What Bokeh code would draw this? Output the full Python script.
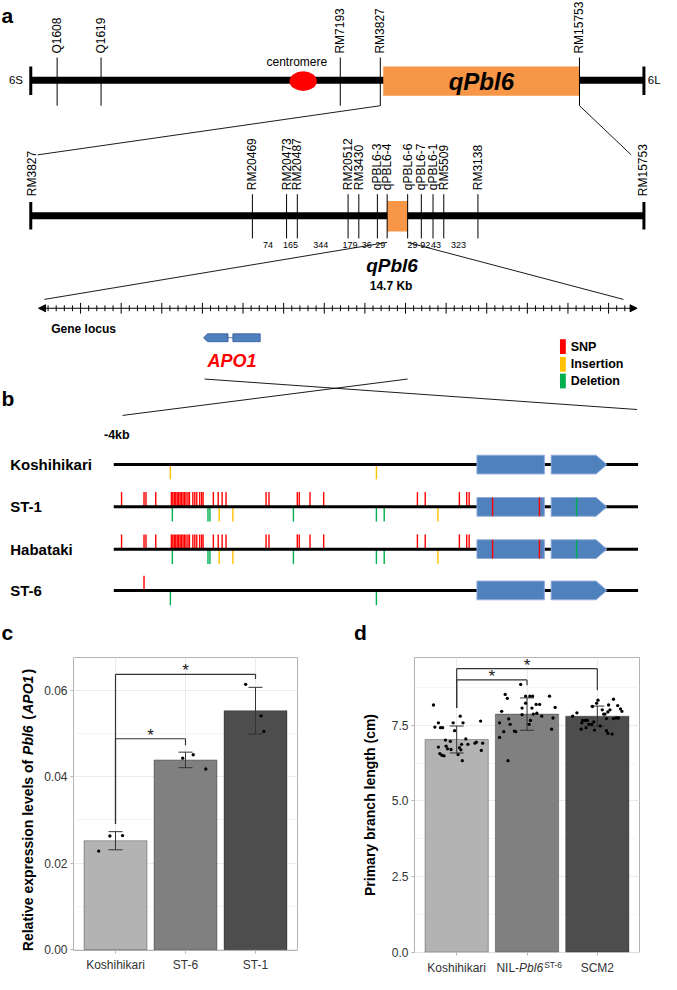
import numpy as np
from bokeh.plotting import figure
from bokeh.models import (Range1d, FixedTicker, SingleIntervalTicker,
                          PrintfTickFormatter, Arrow, NormalHead)
from bokeh.layouts import column, row
from bokeh.embed import file_html
from bokeh.resources import INLINE
from bokeh.core.properties import value

FONT = "Liberation Sans"

# ======================= DATA =======================
# ---- panel a : chromosome 6 map (x = position on the drawing) ----
chrom_marker_names = ["Q1608", "Q1619", "RM7193", "RM3827", "RM15753"]
chrom_marker_pos = [58, 103, 348, 389, 593]
chrom_end_pos = [31, 659]
chrom_end_labels = ["6S", "6L"]
centromere_pos = 310
qtl_span = [392, 593]

fine_marker_names = ["RM20469", "RM20473", "RM20487", "RM20512", "RM3430",
                     "qPBL6-3", "qPBL6-4", "qPBL6-6", "qPBL6-7", "qPBL6-1",
                     "RM5509", "RM3138"]
fine_marker_pos = [258, 293, 304, 356, 367, 386, 396, 417, 431, 443, 454, 489]
fine_end_names = ["RM3827", "RM15753"]
fine_end_pos = [31, 659]
fine_qtl_span = [396, 417]
recomb_counts = ["74", "165", "344", "179", "36", "29", "29", "92", "43", "323"]
recomb_pos = [274, 297, 328, 358, 375, 389, 422, 435, 446, 469]

locus_size_label = "14.7 Kb"
locus_span = [39, 652]
locus_first_kb = 82
locus_px_per_kb = 41.6
locus_n_kb = 14
apo1_exon_left = [208, 233]
apo1_exon_right = [238, 266]

legend_labels = ["SNP", "Insertion", "Deletion"]
legend_colors = ["#FF0000", "#FFC000", "#00B050"]

# ---- panel b : polymorphisms in the APO1 region ----
variant_lines = ["Koshihikari", "ST-1", "Habataki", "ST-6"]
region_span = [116, 653]
exon1_span = [488, 557]
exon2_span = [564, 621]

koshihikari_snp = []
koshihikari_ins = [174, 385]
koshihikari_del = []
koshihikari_exon_snp = []
koshihikari_exon_del = []

st1_snp = [124, 147, 149, 159, 175, 176.5, 178, 179.5, 181, 182.5, 184, 185.5,
           187, 188.5, 190, 192, 193.5, 197, 199, 201, 204, 206, 207.5,
           218, 223, 227, 231, 272, 275, 304, 306, 317, 331, 427, 435,
           470, 477.5, 480]
st1_ins = [224, 238, 448]
st1_del = [176, 212.5, 214.5, 300, 385, 393]
st1_exon_snp = [504, 552]
st1_exon_del = [590]

habataki_snp = [124, 147, 149, 159, 175, 176.5, 178, 179.5, 181, 182.5, 184, 185.5,
                187, 188.5, 190, 192, 193.5, 197, 199, 201, 204, 206, 207.5,
                218, 223, 227, 231, 272, 275, 304, 306, 317, 331, 427, 435,
                470, 477.5, 480]
habataki_ins = [224, 238, 448]
habataki_del = [176, 212.5, 214.5, 300, 385, 393]
habataki_exon_snp = [504, 552]
habataki_exon_del = [590]

st6_snp = [147]
st6_ins = []
st6_del = [174, 385]
st6_exon_snp = []
st6_exon_del = []

# ---- panel c : relative expression of Pbl6 (APO1) ----
expr_lines = ["Koshihikari", "ST-6", "ST-1"]
expr_mean = [0.0252, 0.0439, 0.0553]
expr_sd = [0.0021, 0.0018, 0.0054]
expr_values = [[0.0228, 0.0263, 0.0264],
               [0.0443, 0.0451, 0.0418],
               [0.0614, 0.0541, 0.0505]]
expr_jitter = [[-0.24, -0.08, 0.10],
               [-0.04, 0.11, 0.29],
               [-0.14, 0.08, 0.12]]
expr_brackets = [("Koshihikari", "ST-6", 0.0488, 0.0291, 0.0473),
                 ("Koshihikari", "ST-1", 0.0637, 0.0291, 0.0626)]

# ---- panel d : primary branch length ----
branch_lines = ["Koshihikari", "NIL-Pbl6ST-6", "SCM2"]
branch_mean = [7.03, 7.87, 7.80]
branch_sd = [0.445, 0.535, 0.335]
branch_koshihikari = [8.17, 7.44, 7.58, 7.42, 7.42, 6.78, 6.81, 6.97, 7.58, 7.32,
                      7.80, 7.58, 7.01, 6.51, 6.56, 6.49, 6.72, 6.70, 6.76, 6.69,
                      6.53, 6.33, 6.87, 7.05, 6.87, 6.91, 6.94, 6.91, 6.67, 7.64]
jitter_koshihikari = [-0.33, -0.31, -0.26, -0.23, -0.20, -0.26, -0.15, -0.09, -0.05, -0.03,
                      0.05, 0.09, -0.16, -0.21, -0.24, -0.18, -0.13, -0.08, 0.04, 0.06,
                      0.02, 0.08, 0.07, 0.13, 0.16, 0.26, 0.28, 0.37, 0.35, 0.34]
branch_nil = [8.85, 8.52, 8.39, 8.46, 8.46, 8.46, 8.46, 7.96, 7.71, 7.58,
              7.53, 7.29, 7.31, 7.29, 7.10, 6.33, 8.07, 8.07, 8.19, 8.19,
              8.09, 7.85, 7.87, 7.80, 7.66, 7.53, 7.74, 7.37, 8.23, 7.90]
jitter_nil = [-0.09, -0.31, -0.28, -0.02, 0.04, 0.08, 0.32, -0.36, -0.26, -0.39,
              -0.24, -0.33, -0.18, -0.16, -0.39, -0.27, -0.07, 0.07, 0.13, 0.18,
              0.40, -0.07, 0.09, 0.21, 0.05, 0.03, 0.37, 0.35, -0.02, 0.14]
branch_scm2 = [7.80, 7.91, 7.66, 7.66, 7.66, 7.58, 7.53, 7.37, 7.42, 7.61,
               8.23, 8.33, 8.12, 8.01, 7.87, 7.94, 8.01, 7.87, 7.72, 8.17,
               8.36, 8.15, 8.04, 7.96, 7.72, 7.74, 7.74, 7.32, 7.23, 7.21,
               7.34, 7.53, 7.48]
jitter_scm2 = [-0.35, -0.29, -0.21, -0.17, -0.14, -0.22, -0.12, -0.23, -0.16, -0.05,
               -0.01, 0.01, -0.07, 0.07, 0.11, 0.15, 0.18, 0.09, 0.13, 0.16,
               0.23, 0.29, 0.33, 0.35, 0.23, 0.27, 0.30, 0.13, 0.15, 0.21,
               -0.04, -0.08, 0.04]
branch_brackets = [("Koshihikari", "NIL-Pbl6ST-6", 9.00, 8.07, 8.82),
                   ("Koshihikari", "SCM2", 9.37, 8.07, 8.66)]

# ======================= LAYOUT CONSTANTS =======================
PAGE_W, PAGE_H = 661, 974
REF_W, REF_H = 677, 990
SX = PAGE_W / REF_W
SY = PAGE_H / REF_H
REF_SPLIT = 656
TOP_H = round(REF_SPLIT * SY)
BOT_H = PAGE_H - TOP_H
MB_TOP, MB_BOT = 12, 22

BOLD_W = {' ': 278, '(': 333, ')': 333, '-': 333, '.': 278, '1': 556, '6': 556,
          'A': 722, 'O': 778, 'P': 667, 'R': 722, 'a': 556, 'b': 611, 'e': 556,
          'f': 333, 'i': 278, 'l': 278, 'n': 611, 'o': 611, 'p': 611, 'r': 389,
          's': 556, 't': 333, 'v': 556, 'x': 556}
REG_W = {'-': 333, '6': 556, 'I': 278, 'L': 556, 'N': 722, 'P': 667, 'S': 667,
         'T': 611, 'b': 556, 'l': 222}


def text_width(s, size, table):
    return sum(table.get(ch, 556) for ch in s) * size / 1000.0


def pixel_figure(w, h, xr, yr):
    f = figure(width=w, height=h, x_range=Range1d(*xr), y_range=Range1d(*yr),
               x_axis_type=None, y_axis_type=None, title=None,
               toolbar_location=None, output_backend="svg", min_border=0)
    f.outline_line_color = None
    return f


def T(f, x, y, t, size, style="normal", color="#000000", align="left",
      baseline="middle", angle=0.0, x_offset=0):
    f.text(x=x, y=y, text=t, text_font=value(FONT), text_font_size=size,
           text_font_style=style, text_color=color, text_align=align,
           text_baseline=baseline, angle=angle, x_offset=x_offset)


# ======================= TOP FIGURE (panels a, b) =======================
p = pixel_figure(PAGE_W, TOP_H, (0, REF_W), (REF_SPLIT, 0))


def vlines(xs, y0, y1, color="black", width=1.0):
    p.segment(x0=xs, y0=[y0] * len(xs), x1=xs, y1=[y1] * len(xs),
              line_color=color, line_width=width)


# --- a : whole chromosome
T(p, [1], [15], ["a"], "21px", "bold")
p.segment(x0=[chrom_end_pos[0]], y0=[81], x1=[chrom_end_pos[1]], y1=[81],
          line_width=7, line_color="black")
vlines(chrom_end_pos, 67, 96, width=3)
T(p, [chrom_end_pos[0] - 8], [81], [chrom_end_labels[0]], "11.5px", align="right")
T(p, [chrom_end_pos[1] + 4], [81], [chrom_end_labels[1]], "11.5px", align="left")
p.ellipse(x=[centromere_pos], y=[82], width=28, height=20,
          fill_color="#FF0000", line_color=None)
T(p, [centromere_pos - 6.5], [63], ["centromere"], "12px", align="center")
p.quad(left=[qtl_span[0]], right=[qtl_span[1]], top=[67], bottom=[97],
       fill_color="#F79646", line_color=None)
T(p, [(qtl_span[0] + qtl_span[1]) / 2], [82], ["qPbl6"], "24px", "bold italic",
  align="center")
vlines(chrom_marker_pos, 58, 107)
T(p, chrom_marker_pos, [54] * len(chrom_marker_pos), chrom_marker_names, "12px",
  align="left", angle=np.pi / 2)
p.segment(x0=[chrom_marker_pos[3], chrom_marker_pos[4]], y0=[107, 107],
          x1=[38, 646], y1=[157, 157], line_color="black", line_width=0.9)

# --- a : fine map
p.segment(x0=[fine_end_pos[0]], y0=[219], x1=[fine_end_pos[1]], y1=[219],
          line_width=7, line_color="black")
vlines(fine_end_pos, 205, 233, width=3)
p.quad(left=[fine_qtl_span[0]], right=[fine_qtl_span[1]], top=[204], bottom=[235],
       fill_color="#F79646", line_color=None)
vlines(fine_marker_pos, 197, 242)
T(p, fine_marker_pos, [193] * len(fine_marker_pos), fine_marker_names, "12px",
  align="left", angle=np.pi / 2)
T(p, [fine_end_pos[0] + 1, fine_end_pos[1] - 1], [199, 199], fine_end_names, "12px",
  align="left", angle=np.pi / 2)
T(p, recomb_pos, [249] * len(recomb_pos), recomb_counts, "9px", align="center")
T(p, [401], [270], ["qPbl6"], "19px", "bold italic", align="center")
T(p, [400], [290], [locus_size_label], "12px", "bold", align="center")
p.segment(x0=[fine_qtl_span[0], fine_qtl_span[1]], y0=[246, 246],
          x1=[45, 638], y1=[304, 304], line_color="black", line_width=0.9)

# --- a : gene locus ruler (1 kb major, 0.2 kb minor)
p.add_layout(Arrow(start=NormalHead(size=7, line_color="black", fill_color="black"),
                   end=NormalHead(size=7, line_color="black", fill_color="black"),
                   x_start=locus_span[0], y_start=313, x_end=locus_span[1], y_end=313,
                   line_width=1.2, line_color="black"))
major_x = [locus_first_kb + k * locus_px_per_kb for k in range(locus_n_kb)]
minor_x = []
for j in range(-4, 5 * (locus_n_kb - 1) + 3):
    if j % 5 != 0:
        minor_x.append(locus_first_kb + j * locus_px_per_kb / 5)
vlines(major_x, 307.5, 318.5, width=1)
vlines(minor_x, 310, 316, width=1)
T(p, [52], [334], ["Gene locus"], "12px", "bold")

# APO1 gene model (points left)
yg = 343
p.segment(x0=[apo1_exon_left[1]], y0=[yg], x1=[apo1_exon_right[0]], y1=[yg],
          line_color="#2F5597", line_width=0.8)
p.patches(xs=[[apo1_exon_left[0], apo1_exon_left[0] + 4, apo1_exon_left[1],
               apo1_exon_left[1], apo1_exon_left[0] + 4],
              [apo1_exon_right[0], apo1_exon_right[1], apo1_exon_right[1],
               apo1_exon_right[0]]],
          ys=[[yg, yg - 4, yg - 4, yg + 4, yg + 4],
              [yg - 4, yg - 4, yg + 4, yg + 4]],
          fill_color="#4F81BD", line_color="#2F5597", line_width=0.8)
T(p, [237], [367], ["APO1"], "18px", "bold italic", color="#FF0000", align="center")

# legend
leg_y = [352, 370, 387]
p.quad(left=[573] * 3, right=[579] * 3, top=[y - 7.5 for y in leg_y],
       bottom=[y + 7.5 for y in leg_y], fill_color=legend_colors, line_color=None)
T(p, [584] * 3, leg_y, legend_labels, "12.5px", "bold")

# zoom lines
p.segment(x0=[209, 417], y0=[385, 385], x1=[652, 125], y1=[416, 422],
          line_color="black", line_width=0.9)

# --- b : variants
T(p, [1], [405], ["b"], "21px", "bold")
T(p, [106], [442], ["-4kb"], "12.5px", "bold")
row_y = [472, 515, 558, 600]
T(p, [10] * 4, row_y, variant_lines, "15px", "bold")

row_data = [
    (koshihikari_snp, koshihikari_ins, koshihikari_del, koshihikari_exon_snp, koshihikari_exon_del),
    (st1_snp, st1_ins, st1_del, st1_exon_snp, st1_exon_del),
    (habataki_snp, habataki_ins, habataki_del, habataki_exon_snp, habataki_exon_del),
    (st6_snp, st6_ins, st6_del, st6_exon_snp, st6_exon_del),
]
for y, (snp, ins, dele, esnp, edel) in zip(row_y, row_data):
    if snp:
        vlines(snp, y - 15, y, color="#FF0000", width=1.4)
    if ins:
        vlines(ins, y, y + 15, color="#FFC000", width=1.4)
    if dele:
        vlines(dele, y, y + 15, color="#00B050", width=1.4)
    p.segment(x0=[region_span[0]], y0=[y], x1=[region_span[1]], y1=[y],
              line_color="black", line_width=3)
    tip = exon2_span[1] - 11
    p.patches(xs=[[exon1_span[0], exon1_span[1], exon1_span[1], exon1_span[0]],
                  [exon2_span[0], tip, exon2_span[1], tip, exon2_span[0]]],
              ys=[[y - 9.5, y - 9.5, y + 9.5, y + 9.5],
                  [y - 9.5, y - 9.5, y, y + 9.5, y + 9.5]],
              fill_color="#4F81BD", line_color="#8EA9DB", line_width=1)
    if esnp:
        vlines(esnp, y - 9.5, y + 9.5, color="#FF0000", width=1.4)
    if edel:
        vlines(edel, y - 9.5, y + 9.5, color="#00B050", width=1.4)

T(p, [1, 362], [643, 643], ["c", "d"], "21px", "bold")

# ======================= BAR FIGURES (panels c, d) =======================
BAR_FILLS = ["#B3B3B3", "#808080", "#4D4D4D"]
TICK_COLOR = "#333333"


def bar_figure(width, height, mbl, mbr, mbb, cats, means, sds, vals, jits, yr,
               interval, fmt, brackets, overrides, show_xlabels=True):
    fh = height - MB_TOP - mbb
    ppu = fh / (yr[1] - yr[0])
    f = figure(width=width, height=height, x_range=Range1d(0.4, 3.6),
               y_range=Range1d(yr[0], yr[1]), output_backend="svg",
               toolbar_location=None, title=None, min_border_left=mbl,
               min_border_right=mbr, min_border_top=MB_TOP, min_border_bottom=mbb)
    xs = [i + 1 for i in range(len(cats))]
    f.vbar(x=xs, top=means, bottom=0, width=0.9, fill_color=BAR_FILLS,
           line_color="black", line_alpha=0.3, line_width=1)
    lo = [m - s for m, s in zip(means, sds)]
    hi = [m + s for m, s in zip(means, sds)]
    f.segment(x0=xs, y0=lo, x1=xs, y1=hi, line_color="#333333", line_width=1)
    f.segment(x0=[x - 0.1 for x in xs] * 2, y0=hi + lo,
              x1=[x + 0.1 for x in xs] * 2, y1=hi + lo,
              line_color="#333333", line_width=1)
    px = [x + j for x, js in zip(xs, jits) for j in js]
    py = [v for vs in vals for v in vs]
    f.scatter(x=px, y=py, size=3.3, fill_color="black", line_color=None)
    idx = {c: i + 1 for i, c in enumerate(cats)}
    bx0, by0, bx1, by1, sx, sy = [], [], [], [], [], []
    for a, b, lev, low_a, low_b in brackets:
        xa, xb = idx[a], idx[b]
        bx0 += [xa, xa, xb]
        by0 += [low_a, lev, lev]
        bx1 += [xa, xb, xb]
        by1 += [lev, lev, low_b]
        sx.append((xa + xb) / 2)
        sy.append(lev + 3.5 / ppu)
    f.segment(x0=bx0, y0=by0, x1=bx1, y1=by1, line_color="#333333", line_width=1.2)
    f.text(x=sx, y=sy, text=["*"] * len(sx), text_font=value(FONT),
           text_font_size="17px", text_align="center", text_baseline="middle",
           text_color="#1a1a1a")
    tk = FixedTicker(ticks=xs)
    f.xaxis.ticker = tk
    f.xgrid.ticker = tk
    f.xaxis.major_label_overrides = overrides
    yt = SingleIntervalTicker(interval=interval, num_minor_ticks=2)
    f.yaxis.ticker = yt
    f.ygrid.ticker = yt
    f.yaxis.formatter = PrintfTickFormatter(format=fmt)
    for ax in f.axis:
        ax.axis_line_color = None
        ax.major_tick_line_color = "#B3B3B3"
        ax.major_tick_in = 0
        ax.major_tick_out = 3
        ax.minor_tick_line_color = None
        ax.major_label_text_font = FONT
        ax.major_label_text_font_size = "12px"
        ax.major_label_text_color = TICK_COLOR
        ax.major_label_standoff = 2
    f.xaxis.major_label_standoff = 4
    if not show_xlabels:
        f.xaxis.major_label_text_font_size = "0px"
        f.xaxis.major_label_standoff = 0
    f.outline_line_color = "#B3B3B3"
    f.xgrid.grid_line_color = "#EBEBEB"
    f.ygrid.grid_line_color = "#EBEBEB"
    f.ygrid.minor_grid_line_color = "#F5F5F5"
    return f, ppu


C_W = round(338 * SX)
D_W = PAGE_W - C_W
CY_W = 40
C_MBL = round(75 * SX) - CY_W
C_MBR = C_W - round(75 * SX) - round(229 * SX)

# --- c
c_fig, c_ppu = bar_figure(
    C_W - CY_W, BOT_H, C_MBL, C_MBR, MB_BOT, expr_lines, expr_mean, expr_sd,
    expr_values, expr_jitter, (-0.0002, 0.0676), 0.02, "%.2f", expr_brackets,
    {i + 1: n for i, n in enumerate(expr_lines)})

# y-axis title of c (italic gene names), drawn in a strip left of the axis
cy = pixel_figure(CY_W, BOT_H, (0, CY_W), (BOT_H, 0))
c_title_head = "Relative expression levels of"
c_title_tail = [("Pbl6", "bold italic"), ("(", "bold"), ("APO1", "bold italic"),
                (")", "bold")]
title_size = 14
space_w = text_width(" ", title_size, BOLD_W)
tail_gaps = [space_w + 2.5, 1.5, 2.5, 0]   # gap after each tail piece
head_w = text_width(c_title_head, title_size, BOLD_W)
tail_w = [text_width(s, title_size, BOLD_W) * 1.12 for s, _ in c_title_tail]
total = head_w + space_w + 1.5 + sum(tail_w) + sum(tail_gaps)
y_mid = (MB_TOP + (BOT_H - MB_BOT)) / 2
junction = y_mid + total / 2 - head_w   # end of the upright part
xt = 28 * SX
T(cy, [xt], [junction], [c_title_head], f"{title_size}px", "bold", align="right",
  baseline="middle", angle=np.pi / 2)
y_pos = junction - space_w - 1.5
for k, (s, style) in enumerate(c_title_tail):
    T(cy, [xt], [y_pos], [s], f"{title_size}px", style, align="left",
      baseline="middle", angle=np.pi / 2)
    y_pos -= tail_w[k] + tail_gaps[k]

# --- d
STRIP_H = 14
D_MBL = round(86 * SX)
D_MBR = D_W - D_MBL - round(230 * SX)
d_fig, d_ppu = bar_figure(
    D_W, BOT_H - STRIP_H, D_MBL, D_MBR, MB_BOT - STRIP_H, branch_lines,
    branch_mean, branch_sd, [branch_koshihikari, branch_nil, branch_scm2],
    [jitter_koshihikari, jitter_nil, jitter_scm2], (-0.01, 9.74), 2.5, "%.1f",
    branch_brackets, {1: "", 2: "", 3: ""}, show_xlabels=False)
d_fig.yaxis.axis_label = "Primary branch length (cm)"
d_fig.yaxis.axis_label_text_font = FONT
d_fig.yaxis.axis_label_text_font_size = "14px"
d_fig.yaxis.axis_label_text_font_style = "bold"
d_fig.yaxis.axis_label_text_color = "black"
d_fig.yaxis.axis_label_standoff = 11

# category labels of d (with italic gene name and superscript allele)
d_lab = figure(width=D_W, height=STRIP_H, x_range=d_fig.x_range,
               y_range=Range1d(STRIP_H, 0), x_axis_type=None, y_axis_type=None,
               title=None, toolbar_location=None, output_backend="svg",
               min_border_left=D_MBL, min_border_right=D_MBR, min_border_top=0,
               min_border_bottom=0)
d_lab.outline_line_color = None
T(d_lab, [1, 3], [0.5, 0.5], [branch_lines[0], branch_lines[2]], "12px",
  color=TICK_COLOR, align="center", baseline="top")
nil_parts = [("NIL-", "normal", 12, 0.5), ("Pbl6", "italic", 12, 0.5),
             ("ST-6", "normal", 8.5, -0.5)]
nil_total = sum(text_width(s, sz, REG_W) for s, _, sz, _ in nil_parts)
xo = -nil_total / 2 + 2
for s, style, sz, yv in nil_parts:
    T(d_lab, [2], [yv], [s], f"{sz}px", style, color=TICK_COLOR, align="left",
      baseline="top", x_offset=xo)
    xo += text_width(s, sz, REG_W) + (1 if style == "italic" else 0)

layout = column(p, row(cy, c_fig, column(d_fig, d_lab)))
open("out.html", "w").write(file_html(layout, INLINE))
